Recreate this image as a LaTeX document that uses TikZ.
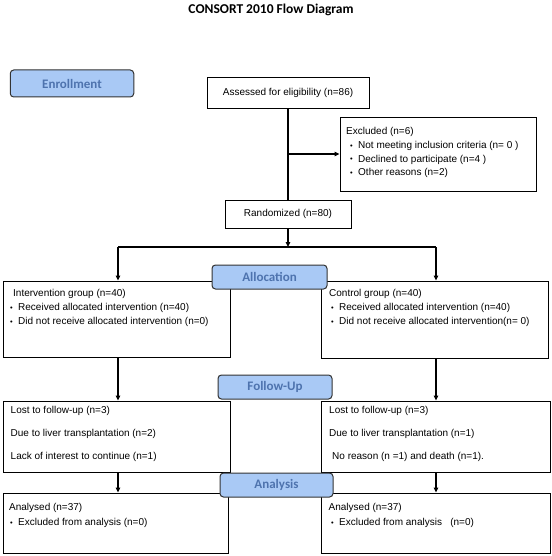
\documentclass[tikz,border=0pt]{standalone}
\usepackage{fontspec}
\setmainfont{Liberation Sans}
\newfontfamily\headfont{Carlito}
\usetikzlibrary{arrows.meta,positioning}

\definecolor{phasefill}{HTML}{A9C9F5}
\definecolor{phasetext}{HTML}{4E73AE}

\newcommand\bul{\makebox[8pt][l]{\fontsize{7.5}{7.5}\selectfont\raisebox{0.3pt}{•}}}

\tikzset{
  box/.style={draw, line width=0.9pt, inner sep=0pt},
  phase/.style={draw=black!80, line width=1pt, rounded corners=3.5pt, fill=phasefill,
    text=phasetext, font=\headfont\bfseries\fontsize{13}{13}\selectfont, inner sep=0pt},
  txt/.style={anchor=base west, inner sep=0pt, font=\fontsize{10}{12}\selectfont},
  arr/.style={-{Triangle[length=5pt,width=4.5pt]}, line width=1.3pt},
  ln/.style={line width=1.3pt},
}

\begin{document}
\begin{tikzpicture}[x=1pt, y=-1pt]
\useasboundingbox (0,0) rectangle (551,556);

\node[font=\headfont\bfseries\fontsize{13.5}{13.5}\selectfont] (title) at (271,10) {CONSORT 2010 Flow Diagram};

%boxes
\node[box, minimum width=162pt, minimum height=31pt, font=\fontsize{10}{12}\selectfont] (assess) at (288,92.5) {Assessed for eligibility (n=86)};
\node[box, minimum width=196pt, minimum height=74pt] (excl) at (438,154) {};
\node[box, minimum width=126pt, minimum height=28pt, font=\fontsize{10}{12}\selectfont] (rand) at (288,214) {Randomized (n=80)};

\node[box, minimum width=226.5pt, minimum height=76pt] (inter) at (116.75,319) {};
\node[box, minimum width=226.5pt, minimum height=77pt] (ctrl) at (434.75,319.5) {};
\node[box, minimum width=227pt, minimum height=71pt] (lostl) at (116.5,436.5) {};
\node[box, minimum width=228.5pt, minimum height=71pt] (lostr) at (435.75,436.5) {};
\node[box, minimum width=225pt, minimum height=60pt] (anall) at (115.5,523) {};
\node[box, minimum width=229pt, minimum height=60pt] (analr) at (435.5,523) {};

%texts
\node[txt] (excl-1) at (346,134.5) {Excluded (n=6)};
\node[txt] (excl-2) at (350,148.5) {\bul Not meeting inclusion criteria (n= 0 )};
\node[txt] (excl-3) at (350,162) {\bul Declined to participate (n=4 )};
\node[txt] (excl-4) at (350,175.5) {\bul Other reasons (n=2)};

\node[txt] (inter-1) at (13,296.5) {Intervention group (n=40)};
\node[txt] (inter-2) at (10,310.5) {\bul Received allocated intervention (n=40)};
\node[txt] (inter-3) at (10,324.5) {\bul Did not receive allocated intervention (n=0)};

\node[txt] (ctrl-1) at (329,296.5) {Control group (n=40)};
\node[txt] (ctrl-2) at (331,310.5) {\bul Received allocated intervention (n=40)};
\node[txt] (ctrl-3) at (331,324.5) {\bul Did not receive allocated intervention(n= 0)};

\node[txt] (lostl-1) at (10.5,413.5) {Lost to follow-up (n=3)};
\node[txt] (lostl-2) at (10.5,436.5) {Due to liver transplantation (n=2)};
\node[txt] (lostl-3) at (10.5,459) {Lack of interest to continue (n=1)};

\node[txt] (lostr-1) at (329,413.5) {Lost to follow-up (n=3)};
\node[txt] (lostr-2) at (329,436.5) {Due to liver transplantation (n=1)};
\node[txt] (lostr-3) at (332,459) {No reason (n =1) and death (n=1).};

\node[txt] (anall-1) at (9,510.5) {Analysed (n=37)};
\node[txt] (anall-2) at (10,525.5) {\bul Excluded from analysis (n=0)};
\node[txt] (analr-1) at (328.5,510.5) {Analysed (n=37)};
\node[txt] (analr-2) at (331,525.5) {\bul Excluded from analysis \ \ (n=0)};

%connectors
\coordinate (split) at (288,247);
\coordinate (sl) at (118,247);
\coordinate (sr) at (436,247);

\draw[ln] (assess.south) -- (rand.north);
\draw[arr] (assess.south |- excl.west) -- (excl.west);
\draw[arr] (rand.south) -- (split);
\draw[ln] (sl) -- (sr);
\draw[arr] (sl) -- (sl |- inter.north);
\draw[arr] (sr) -- (sr |- ctrl.north);
\draw[arr] (sl |- inter.south) -- (sl |- lostl.north);
\draw[arr] (sr |- ctrl.south) -- (sr |- lostr.north);
\draw[arr] (sl |- lostl.south) -- (sl |- anall.north);
\draw[arr] (sr |- lostr.south) -- (sr |- analr.north);

%phase labels
\node[phase, minimum width=123.5pt, minimum height=27pt] (enroll) at (72,83.5) {Enrollment};
\node[phase, minimum width=115pt, minimum height=24pt] (alloc) at (269.5,277) {Allocation};
\node[phase, minimum width=114pt, minimum height=24pt] (follow) at (275,387) {Follow-Up};
\node[phase, minimum width=113pt, minimum height=24pt] (analysis) at (276.5,485) {Analysis};

\end{tikzpicture}
\end{document}
